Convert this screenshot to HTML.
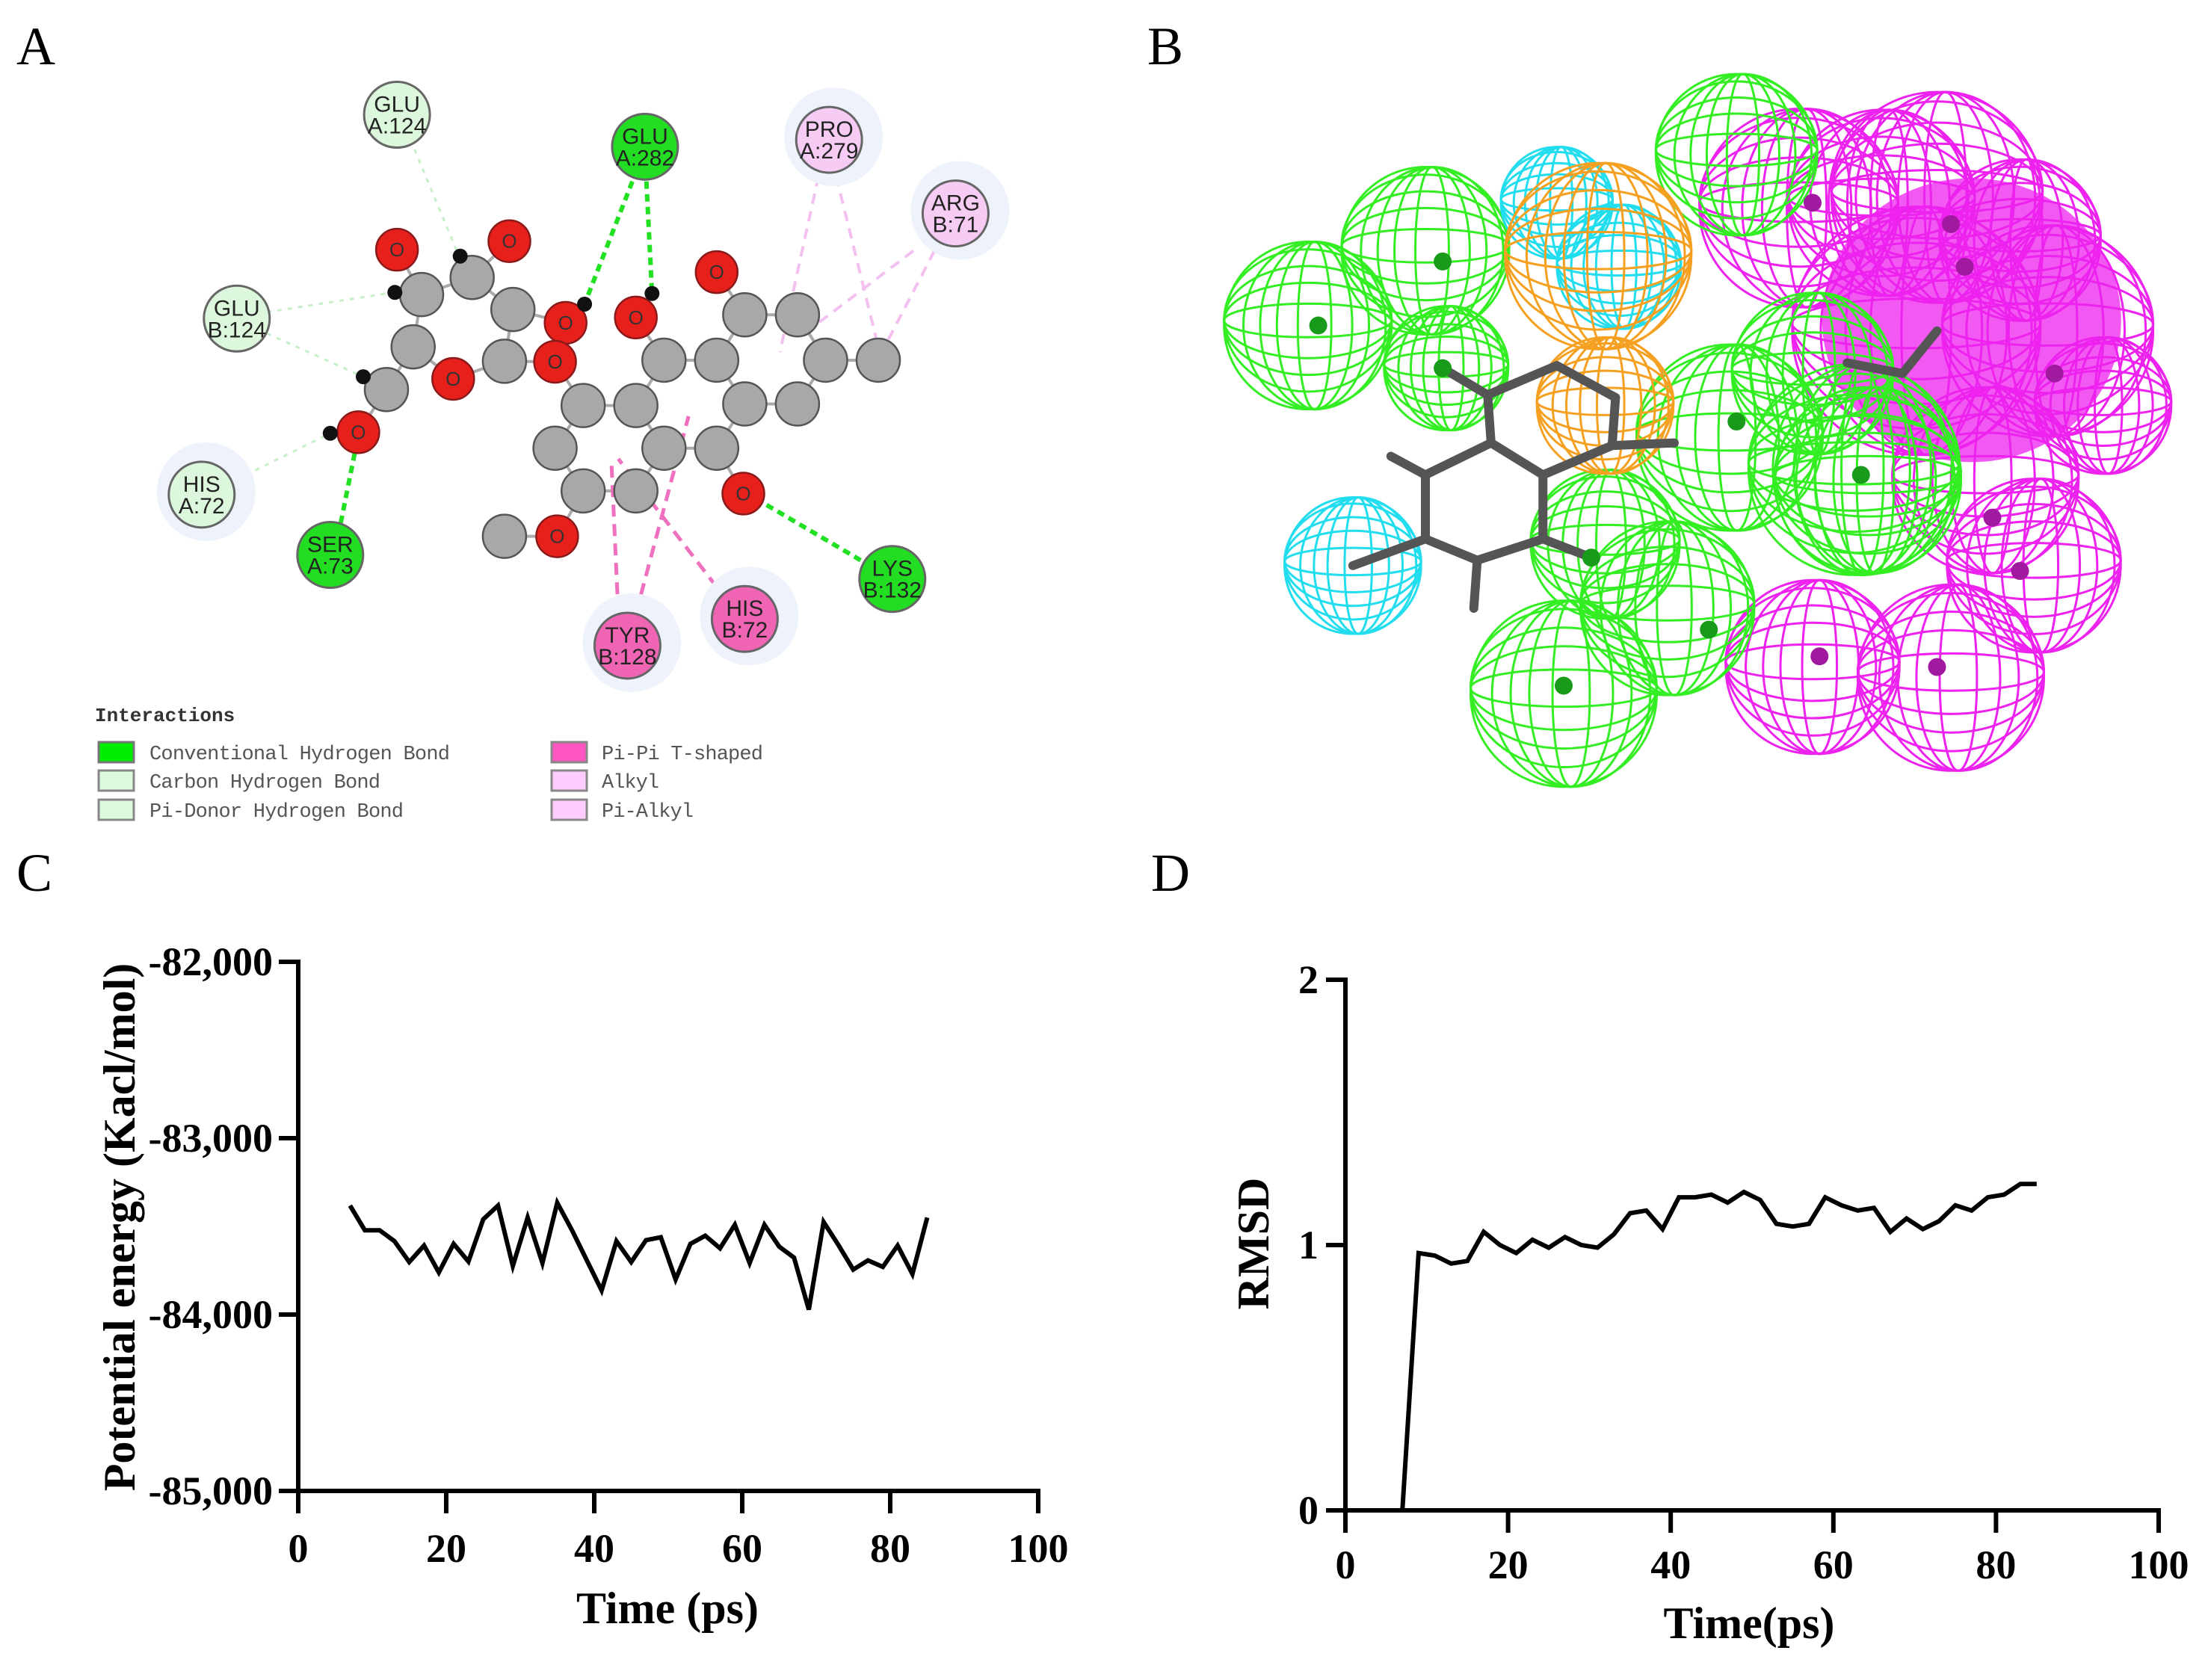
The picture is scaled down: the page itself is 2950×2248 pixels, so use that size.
<!DOCTYPE html>
<html><head><meta charset="utf-8"><style>
html,body{margin:0;padding:0;background:#fff;}
svg{display:block;}
text{font-family:"Liberation Serif",serif;}
.mono{font-family:"Liberation Mono",monospace;}
.res{font-family:"Liberation Sans",sans-serif;}
</style></head><body>
<svg id="fig" width="2950" height="2248" viewBox="0 0 2950 2248" xmlns="http://www.w3.org/2000/svg">
<rect width="2950" height="2248" fill="#fff"/>
<text x="22" y="86" font-size="72">A</text>
<text x="1535" y="86" font-size="72">B</text>
<text x="22" y="1192" font-size="72">C</text>
<text x="1540" y="1192" font-size="72">D</text>
<g id="panelA"></g>
<g id="legendA">
<text class="mono" x="127" y="965" font-size="26" font-weight="bold" fill="#333">Interactions</text>
<rect x="132" y="993" width="47" height="27" fill="#00ee00" stroke="#777" stroke-width="3"/>
<text class="mono" x="200" y="1016" font-size="27" fill="#555" textLength="402">Conventional Hydrogen Bond</text>
<rect x="132" y="1031" width="47" height="27" fill="#dcf9dc" stroke="#888" stroke-width="3"/>
<text class="mono" x="200" y="1054" font-size="27" fill="#555" textLength="309">Carbon Hydrogen Bond</text>
<rect x="132" y="1070" width="47" height="27" fill="#dcf9dc" stroke="#888" stroke-width="3"/>
<text class="mono" x="200" y="1093" font-size="27" fill="#555" textLength="340">Pi-Donor Hydrogen Bond</text>
<rect x="738" y="993" width="47" height="27" fill="#ff55c0" stroke="#888" stroke-width="3"/>
<text class="mono" x="805" y="1016" font-size="27" fill="#555" textLength="216">Pi-Pi T-shaped</text>
<rect x="738" y="1031" width="47" height="27" fill="#ffccff" stroke="#888" stroke-width="3"/>
<text class="mono" x="805" y="1054" font-size="27" fill="#555" textLength="77">Alkyl</text>
<rect x="738" y="1070" width="47" height="27" fill="#ffccff" stroke="#888" stroke-width="3"/>
<text class="mono" x="805" y="1093" font-size="27" fill="#555" textLength="123">Pi-Alkyl</text>
</g>
<g id="panelB"></g>
<g id="chartC"></g>
<g id="chartD"></g>
</svg>
<script>
// ---------- Chart data ----------
const energyTime = [7,9,11,13,15,17,19,21,23,25,27,29,31,33,35,37,39,41,43,45,47,49,51,53,55,57,59,61,63,65,67,69,71,73,75,77,79,81,83,85];
const energyValues = [-83382,-83522,-83522,-83584,-83702,-83609,-83761,-83599,-83699,-83460,-83382,-83724,-83450,-83708,-83366,-83522,-83693,-83863,-83584,-83702,-83578,-83562,-83801,-83599,-83553,-83624,-83491,-83708,-83491,-83615,-83677,-83972,-83475,-83606,-83745,-83693,-83730,-83609,-83770,-83450];
const energyYTicks = [-82000,-83000,-84000,-85000];
const energyYTickLabels = ["-82,000","-83,000","-84,000","-85,000"];
const xTicks = [0,20,40,60,80,100];
const xTickLabels = ["0","20","40","60","80","100"];
const rmsdTime = [7,9,11,13,15,17,19,21,23,25,27,29,31,33,35,37,39,41,43,45,47,49,51,53,55,57,59,61,63,65,67,69,71,73,75,77,79,81,83,85];
const rmsdValues = [0,0.97,0.96,0.93,0.94,1.05,1.0,0.97,1.02,0.99,1.03,1.0,0.99,1.04,1.12,1.13,1.06,1.18,1.18,1.19,1.16,1.2,1.17,1.08,1.07,1.08,1.18,1.15,1.13,1.14,1.05,1.1,1.06,1.09,1.15,1.13,1.18,1.19,1.23,1.23];
const rmsdYTicks = [0,1,2];
const rmsdYTickLabels = ["0","1","2"];

const NS = "http://www.w3.org/2000/svg";
function mk(tag, attrs, parent){const e=document.createElementNS(NS,tag);for(const k in attrs)e.setAttribute(k,attrs[k]);parent.appendChild(e);return e;}

function drawChart(g, cfg){
  const sx = v => cfg.x0 + (v-cfg.xmin)/(cfg.xmax-cfg.xmin)*(cfg.x1-cfg.x0);
  const sy = v => cfg.yb + (v-cfg.ymin)/(cfg.ymax-cfg.ymin)*(cfg.yt-cfg.yb);
  const ya = mk('line',{x1:sx(cfg.xmin),y1:sy(cfg.ymin)+3,x2:sx(cfg.xmin),y2:sy(cfg.ymax)-3,stroke:'#000','stroke-width':6},g);
  
  
  const xa = mk('line',{x1:sx(cfg.xmin)-3,y1:sy(cfg.ymin),x2:sx(cfg.xmax)+3,y2:sy(cfg.ymin),stroke:'#000','stroke-width':6},g);
  
  
  cfg.yticks.forEach((v,i)=>{
    const t = mk('line',{x1:sx(cfg.xmin)-26,y1:sy(v),x2:sx(cfg.xmin),y2:sy(v),stroke:'#000','stroke-width':6},g);
    
    
    const l = mk('text',{x:sx(cfg.xmin)-cfg.ylabOff,y:sy(v)+18,'font-size':54,'font-weight':'bold','text-anchor':'end'},g);
    l.textContent = cfg.ylabels[i];
    
    
  });
  xTicks.forEach((v,i)=>{
    const t = mk('line',{x1:sx(v),y1:sy(cfg.ymin),x2:sx(v),y2:sy(cfg.ymin)+30,stroke:'#000','stroke-width':6},g);
    
    
    const l = mk('text',{x:sx(v),y:cfg.xlabY,'font-size':54,'font-weight':'bold','text-anchor':'middle'},g);
    l.textContent = xTickLabels[i];
    
    
  });
  const pts = cfg.xs.map((x,i)=>sx(x).toFixed(1)+','+sy(cfg.ys[i]).toFixed(1)).join(' ');
  const pl = mk('polyline',{points:pts,fill:'none',stroke:'#000','stroke-width':6,'stroke-linejoin':'miter'},g);
  
  
  const xt = mk('text',{x:cfg.xtX,y:cfg.xtY,'font-size':60,'font-weight':'bold','text-anchor':'middle'},g);
  xt.textContent = cfg.xtitle;
  
  
  const yt = mk('text',{x:0,y:0,'font-size':60,'font-weight':'bold','text-anchor':'middle',transform:`translate(${cfg.ytX},${cfg.ytY}) rotate(-90)`},g);
  yt.textContent = cfg.ytitle;
  
  
}
drawChart(document.getElementById('chartC'),{x0:399,x1:1389,xmin:0,xmax:100,yb:1995,yt:1287,ymin:-85000,ymax:-82000,
  yticks:energyYTicks,ylabels:energyYTickLabels,xs:energyTime,ys:energyValues,ylabOff:34,xlabY:2090,
  xtitle:'Time (ps)',xtX:893,xtY:2172,ytitle:'Potential energy (Kacl/mol)',ytX:180,ytY:1642});
drawChart(document.getElementById('chartD'),{x0:1800,x1:2888,xmin:0,xmax:100,yb:2021,yt:1311,ymin:0,ymax:2,
  yticks:rmsdYTicks,ylabels:rmsdYTickLabels,xs:rmsdTime,ys:rmsdValues,ylabOff:36,xlabY:2112,
  xtitle:'Time(ps)',xtX:2340,xtY:2192,ytitle:'RMSD',ytX:1697,ytY:1664});

// ---------- Panel A ----------
(function(){
  const g = document.getElementById('panelA');
  const fx = x => x*0.94, fy = y => y*0.714;
  const gray = [[600,552],[672,520],[730,580],[588,650],[718,677],[550,730],[830,760],[905,760],[945,675],[1020,675],[1060,590],[1135,590],[1175,675],[1250,675],[1060,757],[1135,757],[790,840],[945,840],[1020,840],[830,920],[905,920],[718,1005]];
  const red = [[565,468],[725,452],[805,605],[905,595],[790,678],[645,710],[510,810],[1020,510],[1058,925],[793,1005]];
  const all = gray.concat(red).map(p=>[fx(p[0]),fy(p[1])]);
  for(let i=0;i<all.length;i++)for(let j=i+1;j<all.length;j++){
    const d=Math.hypot(all[i][0]-all[j][0],all[i][1]-all[j][1]);
    if(d<82){const b=mk('line',{x1:all[i][0],y1:all[i][1],x2:all[j][0],y2:all[j][1],stroke:'#aaa','stroke-width':4},g);
      
      }
  }
  const lines=[
    [[590,280],[650,470],'#c8f0c8',3,'6 8'],[[380,585],[560,548],'#c8f0c8',3,'6 8'],[[380,625],[517,706],'#c8f0c8',3,'6 8'],[[350,890],[470,812],'#c8f0c8',3,'6 8'],
    [[900,340],[832,570],'#22e022',6,'10 7'],[[920,340],[928,550],'#22e022',6,'10 7'],[[485,980],[510,815],'#22e022',6,'10 7'],[[1225,1050],[1070,930],'#22e022',6,'10 7'],
    [[1165,330],[1110,660],'#f3c0f0',4,'14 10'],[[1190,330],[1250,650],'#f3c0f0',4,'14 10'],[[1330,470],[1255,660],'#f3c0f0',4,'14 10'],[[1300,470],[1160,610],'#f3c0f0',4,'14 10'],
    [[880,1150],[870,860],'#f070c0',5,'16 10'],[[905,1150],[980,780],'#f070c0',5,'16 10'],[[1020,1100],[880,860],'#f070c0',5,'16 10']];
  lines.forEach(l=>{const e=mk('line',{x1:fx(l[0][0]),y1:fy(l[0][1]),x2:fx(l[1][0]),y2:fy(l[1][1]),stroke:l[2],'stroke-width':l[3],'stroke-dasharray':l[4]},g);
    
    });
  gray.forEach(p=>{const c=mk('circle',{cx:fx(p[0]),cy:fy(p[1]),r:29,fill:'#a8a8a8',stroke:'#555','stroke-width':2.5},g);
    
    });
  red.forEach(p=>{const c=mk('circle',{cx:fx(p[0]),cy:fy(p[1]),r:28,fill:'#e8201c',stroke:'#8a1a1a','stroke-width':2.5},g);
    
    
    const t=mk('text',{x:fx(p[0]),y:fy(p[1])+9,'font-size':26,'text-anchor':'middle',fill:'#333',class:'res'},g);
    t.textContent='O';});
  [[655,480],[562,548],[517,706],[470,812],[832,570],[928,550]].forEach(p=>{const c=mk('circle',{cx:fx(p[0]),cy:fy(p[1]),r:10,fill:'#111'},g);
    
    });
  const res=[['GLU','A:124',565,215,'#dcf7dc',0],['GLU','A:282',918,275,'#22dd22',0],['PRO','A:279',1180,262,'#f6ccf4',1],['ARG','B:71',1360,400,'#f6ccf4',1],
    ['GLU','B:124',337,597,'#dcf7dc',0],['HIS','A:72',287,927,'#dcf7dc',1],['SER','A:73',470,1040,'#22dd22',0],['TYR','B:128',893,1210,'#f064b4',1],['HIS','B:72',1060,1160,'#f064b4',1],['LYS','B:132',1270,1085,'#22dd22',0]];
  res.forEach(r=>{const cx=fx(r[2]),cy=fy(r[3]);
    if(r[5]){const h=mk('circle',{cx:cx+6,cy:cy-4,r:66,fill:'#eef3fb'},g);}
    const c=mk('circle',{cx:cx,cy:cy,r:44,fill:r[4],stroke:'#666','stroke-width':3},g);
    
    
    const t1=mk('text',{x:cx,y:cy-4,'font-size':30,'text-anchor':'middle',fill:'#222',class:'res'},g);t1.textContent=r[0];
    const t2=mk('text',{x:cx,y:cy+25,'font-size':30,'text-anchor':'middle',fill:'#222',class:'res'},g);t2.textContent=r[1];
  });
})();

// ---------- Panel B ----------
(function(){
  const g=document.getElementById('panelB');
  const fx=x=>1500+x*0.925, fy=y=>y*0.714, fr=r=>r*0.83;
  function sphere(x,y,r,col){
    const cx=fx(x),cy=fy(y),R=fr(r);
    const s=mk('g',{fill:'none',stroke:col,'stroke-width':3},g);
    
    
    mk('circle',{cx:cx,cy:cy,r:R},s);
    [0.2,0.45,0.65,0.85].forEach(k=>{mk('ellipse',{cx:cx+R*0.08,cy:cy,rx:R*k,ry:R},s);mk('ellipse',{cx:cx,cy:cy-R*0.06,rx:R,ry:R*k},s);});
  }
  const core=mk('ellipse',{cx:fx(1230),cy:fy(600),rx:200,ry:190,fill:'#ee22ee',opacity:0.75},g);
  
  
  const mag=[[980,390,160],[1180,370,170],[1340,620,170],[1420,760,110],[1000,1250,140],[1200,1270,150],[1320,1060,140],[1150,620,200],[1250,900,150],[1100,380,150],[1300,450,130]];
  mag.forEach(s=>sphere(s[0],s[1],s[2],'#ee22ee'));
  const grn=[[270,610,135],[440,470,135],[470,690,100],[890,290,130],[640,1300,150],[790,1140,140],[880,820,150],[1060,880,170],[1000,700,130],[700,1020,120],[1080,900,150]];
  grn.forEach(s=>sphere(s[0],s[1],s[2],'#33ee22'));
  sphere(335,1060,110,'#22ddee');sphere(630,380,90,'#22ddee');sphere(720,500,100,'#22ddee');
  sphere(690,480,150,'#f5a020');sphere(700,760,110,'#f5a020');
  const bonds=[[[530,740],[630,685]],[[630,685],[715,745]],[[715,745],[710,835]],[[710,835],[610,890]],[[610,890],[535,830]],[[535,830],[530,740]],
    [[610,890],[610,1010]],[[610,1010],[515,1050]],[[515,1050],[440,1010]],[[440,1010],[440,890]],[[440,890],[535,830]],
    [[440,1010],[335,1060]],[[515,1050],[510,1140]],[[440,890],[390,855]],[[710,835],[800,830]],[[530,740],[465,690]],[[610,1010],[680,1045]],[[1050,680],[1130,700]],[[1130,700],[1180,620]]];
  bonds.forEach(b=>{const l=mk('line',{x1:fx(b[0][0]),y1:fy(b[0][1]),x2:fx(b[1][0]),y2:fy(b[1][1]),stroke:'#555','stroke-width':12,'stroke-linecap':'round'},g);
    
    });
  [[465,490],[285,610],[465,690],[680,1045],[850,1180],[640,1285],[890,790],[1070,890]].forEach(p=>{const c=mk('circle',{cx:fx(p[0]),cy:fy(p[1]),r:12,fill:'#1a9a1a'},g);
    
    });
  [[1000,380],[1220,500],[1350,700],[1260,970],[1300,1070],[1180,1250],[1010,1230],[1200,420]].forEach(p=>{const c=mk('circle',{cx:fx(p[0]),cy:fy(p[1]),r:12,fill:'#a01aa0'},g);
    
    });
})();
</script>
</body></html>
